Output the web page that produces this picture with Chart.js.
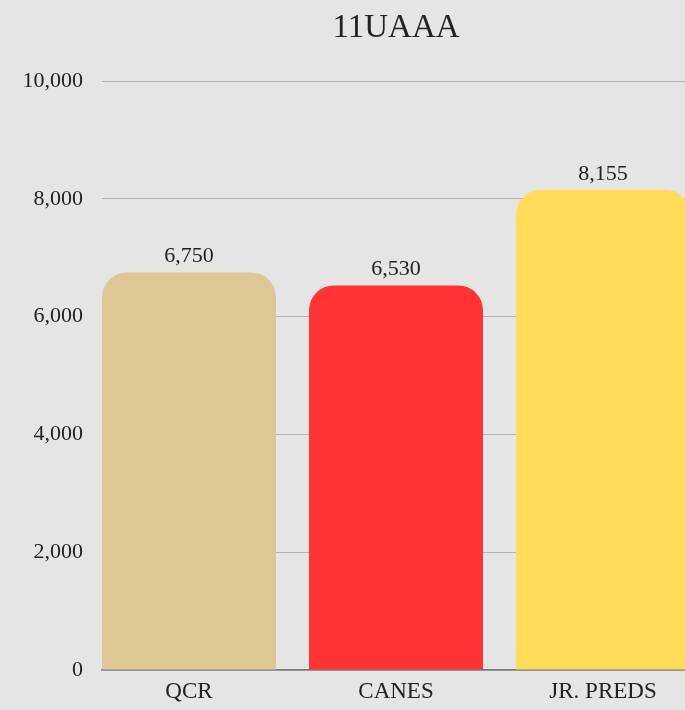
<!DOCTYPE html>
<html>
<head>
<meta charset="utf-8">
<script src="https://cdn.jsdelivr.net/npm/chart.js@4"></script>
<style>
  html, body { margin: 0; padding: 0; background: #e5e5e5; overflow: hidden; }
  #wrap { width: 685px; height: 710px; overflow: hidden; position: relative; }
  #inner { width: 700px; height: 710px; position: absolute; left: 0; top: 0; }
</style>
</head>
<body>
<div id="wrap"><div id="inner"><canvas id="c"></canvas></div></div>
<script>
const title = '11UAAA';
const categories = ['QCR', 'CANES', 'JR. PREDS'];
const values = [6750, 6530, 8155];
const barColors = ['#ddc794', '#ff3333', '#ffdc5a'];
const yTickValues = [0, 2000, 4000, 6000, 8000, 10000];

const FONT = "'Liberation Serif', 'Times New Roman', serif";
const TEXT = '#222222';

const valueLabels = {
  id: 'valueLabels',
  afterDatasetsDraw(chart) {
    const ctx = chart.ctx;
    const meta = chart.getDatasetMeta(0);
    ctx.save();
    ctx.font = `22px ${FONT}`;
    ctx.fillStyle = TEXT;
    ctx.textAlign = 'center';
    ctx.textBaseline = 'alphabetic';
    meta.data.forEach((bar, i) => {
      ctx.fillText(values[i].toLocaleString('en-US'), bar.x, bar.y - 10);
    });
    ctx.restore();
  }
};

new Chart(document.getElementById('c'), {
  type: 'bar',
  data: {
    datasets: [{
      data: categories.map((c, i) => ({ x: i, y: values[i] })),
      backgroundColor: barColors,
      borderWidth: 0,
      borderRadius: { topLeft: 25, topRight: 25, bottomLeft: 0, bottomRight: 0 },
      borderSkipped: 'start',
      categoryPercentage: 1,
      barPercentage: 0.8406
    }]
  },
  options: {
    responsive: true,
    maintainAspectRatio: false,
    devicePixelRatio: 1,
    animation: false,
    layout: { padding: { left: 0, right: 10, top: 0, bottom: 0 } },
    plugins: {
      legend: { display: false },
      tooltip: { enabled: false },
      title: {
        display: true,
        text: title,
        fullSize: false,
        color: TEXT,
        font: { family: FONT, size: 33, weight: 'normal', lineHeight: 1.2 },
        padding: { top: 8.2, bottom: 33.2 }
      }
    },
    scales: {
      x: {
        type: 'linear',
        min: -0.4203,
        max: 2.4203,
        offset: false,
        grid: { display: false, drawTicks: false, offset: false },
        border: { display: true, color: '#7a7a7a', width: 1.5 },
        afterBuildTicks(scale) { scale.ticks = categories.map((c, i) => ({ value: i })); },
        afterFit(scale) { scale.height = 40; },
        ticks: {
          padding: 8,
          color: TEXT,
          font: { family: FONT, size: 23 },
          autoSkip: false,
          maxRotation: 0,
          callback: (v) => categories[Math.round(v)]
        }
      },
      y: {
        min: 0,
        max: 10000,
        grid: { color: '#b3b3b3', lineWidth: 1, drawTicks: false },
        border: { display: false },
        afterBuildTicks(scale) { scale.ticks = yTickValues.map(v => ({ value: v })); },
        afterFit(scale) { scale.width = 102; },
        ticks: {
          padding: 19,
          color: TEXT,
          font: { family: FONT, size: 22 },
          callback: (v) => Number(v).toLocaleString('en-US')
        }
      }
    }
  },
  plugins: [valueLabels]
});
</script>
</body>
</html>
